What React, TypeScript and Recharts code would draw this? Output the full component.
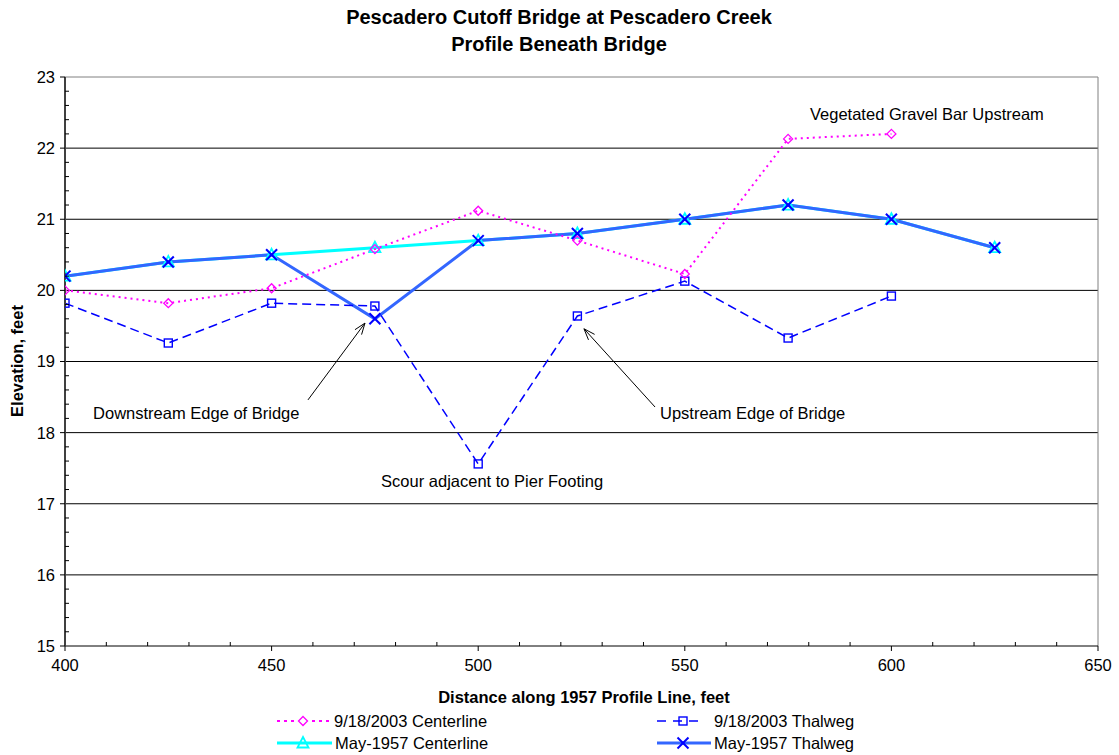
import React from 'react';
import { ComposedChart, Line, XAxis, YAxis, ReferenceLine, ReferenceDot } from 'recharts';

const FONT = '"Liberation Sans", Arial, Helvetica, sans-serif';

// ---- data ----
const distances2003 = [400, 425, 450, 475, 500, 524, 550, 575, 600];
const centerline2003 = [20.0, 19.82, 20.03, 20.58, 21.12, 20.7, 20.23, 22.13, 22.2];
const thalweg2003 = [19.82, 19.26, 19.82, 19.78, 17.56, 19.64, 20.13, 19.33, 19.92];

const distances1957 = [400, 425, 450, 475, 500, 524, 550, 575, 600, 625];
const centerline1957 = [20.2, 20.4, 20.5, 20.6, 20.7, 20.8, 21.0, 21.2, 21.0, 20.6];
const thalweg1957 = [20.2, 20.4, 20.5, 19.6, 20.7, 20.8, 21.0, 21.2, 21.0, 20.6];

const seriesNames = ['9/18/2003 Centerline', '9/18/2003 Thalweg', 'May-1957 Centerline', 'May-1957 Thalweg'];

// ticks
const yMajorTicks = [15, 16, 17, 18, 19, 20, 21, 22, 23];
const xMajorTicks = [400, 450, 500, 550, 600, 650];
const gridValues = [16, 17, 18, 19, 20, 21, 22];
const yAllTicks: number[] = [];
for (let i = 0; i <= 40; i++) yAllTicks.push(Math.round((15 + i * 0.2) * 10) / 10);
const xAllTicks: number[] = [];
for (let v = 400; v <= 650; v += 10) xAllTicks.push(v);

// annotations
const annotationLabels = ['Vegetated Gravel Bar Upstream', 'Downstream Edge of Bridge', 'Upstream Edge of Bridge', 'Scour adjacent to Pier Footing'];
const annotationX = [580.3, 406.8, 544, 476.5];
const annotationY = [22.48, 18.28, 18.28, 17.32];
const arrowTailX = [458.8, 542.8];
const arrowTailY = [18.46, 18.36];
const arrowHeadX = [472.6, 525.6];
const arrowHeadY = [19.54, 19.46];

const toPoints = (xs: number[], ys: number[]) => xs.map((x, i) => ({ x, y: ys[i] }));
const c2003 = toPoints(distances2003, centerline2003);
const t2003 = toPoints(distances2003, thalweg2003);
const c1957 = toPoints(distances1957, centerline1957);
const t1957 = toPoints(distances1957, thalweg1957);

const MAGENTA = '#FF00FF';
const DBLUE = '#0000FF';
const CYAN = '#00FFFF';
const TBLUE = '#3366FF';

const diamond = (cx: number, cy: number) => (
  <path d={`M${cx},${cy - 4.5}L${cx + 4.5},${cy}L${cx},${cy + 4.5}L${cx - 4.5},${cy}Z`} fill="none" stroke={MAGENTA} strokeWidth={1.3} />
);
const square = (cx: number, cy: number) => (
  <rect x={cx - 4} y={cy - 4} width={8} height={8} fill="none" stroke={DBLUE} strokeWidth={1.4} />
);
const triangle = (cx: number, cy: number) => (
  <path d={`M${cx},${cy - 6}L${cx + 5.5},${cy + 4.5}L${cx - 5.5},${cy + 4.5}Z`} fill="none" stroke={CYAN} strokeWidth={1.8} />
);
const cross = (cx: number, cy: number) => (
  <g>
    <line x1={cx - 5.5} y1={cy - 5.5} x2={cx + 5.5} y2={cy + 5.5} stroke={DBLUE} strokeWidth={2} />
    <line x1={cx - 5.5} y1={cy + 5.5} x2={cx + 5.5} y2={cy - 5.5} stroke={DBLUE} strokeWidth={2} />
  </g>
);

const makeDot = (fn: (cx: number, cy: number) => React.ReactElement) => (props: any) => {
  const { cx, cy, index } = props;
  if (cx == null || cy == null) return <g key={`d-${index}`} />;
  return <g key={`d-${index}`}>{fn(cx, cy)}</g>;
};

const YTick = (props: any) => {
  const { x, y, payload } = props;
  const v = payload.value;
  if (yMajorTicks.includes(v)) {
    return (
      <g>
        <line x1={x - 5} y1={y} x2={x} y2={y} stroke="#000" strokeWidth={1} />
        <text x={x - 10} y={y} dy="0.36em" textAnchor="end" fontSize={16.5} fontFamily={FONT} fill="#000">{v}</text>
      </g>
    );
  }
  return <line x1={x} y1={y} x2={x + 4} y2={y} stroke="#000" strokeWidth={1} />;
};

const XTick = (props: any) => {
  const { x, y, payload } = props;
  const v = payload.value;
  if (xMajorTicks.includes(v)) {
    return (
      <g>
        <line x1={x} y1={y} x2={x} y2={y + 5} stroke="#000" strokeWidth={1} />
        <text x={x} y={y + 19} dy="0.36em" textAnchor="middle" fontSize={16.5} fontFamily={FONT} fill="#000">{v}</text>
      </g>
    );
  }
  return <line x1={x} y1={y - 4} x2={x} y2={y} stroke="#000" strokeWidth={1} />;
};

const ArrowShape = (props: any) => {
  const { x1, y1, x2, y2 } = props;
  const ang = Math.atan2(y2 - y1, x2 - x1);
  const L = 12;
  const sp = 0.35;
  const ax1 = x2 - L * Math.cos(ang - sp);
  const ay1 = y2 - L * Math.sin(ang - sp);
  const ax2 = x2 - L * Math.cos(ang + sp);
  const ay2 = y2 - L * Math.sin(ang + sp);
  return (
    <g>
      <line x1={x1} y1={y1} x2={x2} y2={y2} stroke="#000" strokeWidth={1} />
      <polyline points={`${ax1},${ay1} ${x2},${y2} ${ax2},${ay2}`} fill="none" stroke="#000" strokeWidth={1} />
    </g>
  );
};

const textShape = (label: string) => (props: any) => (
  <text x={props.cx} y={props.cy} dy="0.36em" fontSize={16.5} fontFamily={FONT} fill="#000">{label}</text>
);

const legendText = (x: number, y: number, s: string) => (
  <text x={x} y={y} dy="0.36em" fontSize={16.5} fontFamily={FONT} fill="#000">{s}</text>
);

export default function App() {
  return (
    <div style={{ position: 'absolute', left: 0, top: 0, width: 1119, height: 755, background: '#fff' }}>
      <ComposedChart width={1119} height={755} margin={{ top: 77, right: 21, bottom: 79, left: 5 }}>
        <XAxis
          type="number"
          dataKey="x"
          domain={[400, 650]}
          ticks={xAllTicks}
          interval={0}
          tick={<XTick />}
          tickLine={false}
          tickSize={0}
          tickMargin={0}
          height={30}
          axisLine={{ stroke: '#000', strokeWidth: 1 }}
          allowDataOverflow
        />
        <YAxis
          type="number"
          dataKey="y"
          domain={[15, 23]}
          ticks={yAllTicks}
          interval={0}
          tick={<YTick />}
          tickLine={false}
          tickSize={0}
          tickMargin={0}
          width={60}
          axisLine={{ stroke: '#404040', strokeWidth: 2 }}
          allowDataOverflow
        />
        {gridValues.map((g) => (
          <ReferenceLine key={`g${g}`} y={g} stroke="#000" strokeWidth={1} />
        ))}
        <ReferenceLine y={23} stroke="#808080" strokeWidth={1} />
        <ReferenceLine x={650} stroke="#808080" strokeWidth={1} />
        <Line
          data={c1957}
          dataKey="y"
          name={seriesNames[2]}
          stroke={CYAN}
          strokeWidth={3}
          dot={makeDot(triangle)}
          activeDot={false}
          isAnimationActive={false}
        />
        <Line
          data={t1957}
          dataKey="y"
          name={seriesNames[3]}
          stroke={TBLUE}
          strokeWidth={3}
          dot={makeDot(cross)}
          activeDot={false}
          isAnimationActive={false}
        />
        <Line
          data={t2003}
          dataKey="y"
          name={seriesNames[1]}
          stroke={DBLUE}
          strokeWidth={1.5}
          strokeDasharray="9 5"
          dot={makeDot(square)}
          activeDot={false}
          isAnimationActive={false}
        />
        <Line
          data={c2003}
          dataKey="y"
          name={seriesNames[0]}
          stroke={MAGENTA}
          strokeWidth={2}
          strokeDasharray="2 4"
          dot={makeDot(diamond)}
          activeDot={false}
          isAnimationActive={false}
        />
        {arrowTailX.map((tx, i) => (
          <ReferenceLine
            key={`a${i}`}
            segment={[{ x: tx, y: arrowTailY[i] }, { x: arrowHeadX[i], y: arrowHeadY[i] }]}
            shape={ArrowShape}
          />
        ))}
        {annotationLabels.map((s, i) => (
          <ReferenceDot key={`t${i}`} x={annotationX[i]} y={annotationY[i]} r={0} shape={textShape(s)} />
        ))}
      </ComposedChart>
      <svg width={1119} height={755} style={{ position: 'absolute', left: 0, top: 0, pointerEvents: 'none' }}>
        <text x={559} y={17} dy="0.36em" textAnchor="middle" fontSize={20} fontWeight="bold" fontFamily={FONT}>Pescadero Cutoff Bridge at Pescadero Creek</text>
        <text x={559} y={44} dy="0.36em" textAnchor="middle" fontSize={20} fontWeight="bold" fontFamily={FONT}>Profile Beneath Bridge</text>
        <text x={584} y={697} dy="0.36em" textAnchor="middle" fontSize={16.5} fontWeight="bold" fontFamily={FONT}>Distance along 1957 Profile Line, feet</text>
        <text x={17} y={361} dy="0.36em" textAnchor="middle" fontSize={16.5} fontWeight="bold" fontFamily={FONT} transform="rotate(-90 17 361)">Elevation, feet</text>

        <line x1={277} y1={721} x2={330} y2={721} stroke={MAGENTA} strokeWidth={2} strokeDasharray="3 4" />
        <rect x={296} y={715} width={14} height={12} fill="#fff" />
        {diamond(303, 721)}
        {legendText(334, 721, seriesNames[0])}

        <line x1={277} y1={743} x2={332} y2={743} stroke={CYAN} strokeWidth={3} />
        {triangle(303, 743)}
        {legendText(335, 743, seriesNames[2])}

        <line x1={657} y1={721} x2={705} y2={721} stroke={DBLUE} strokeWidth={1.5} strokeDasharray="9 7" />
        {square(683, 721)}
        {legendText(714, 721, seriesNames[1])}

        <line x1={657} y1={743} x2={711} y2={743} stroke={TBLUE} strokeWidth={3} />
        {cross(683, 743)}
        {legendText(714, 743, seriesNames[3])}
      </svg>
    </div>
  );
}
